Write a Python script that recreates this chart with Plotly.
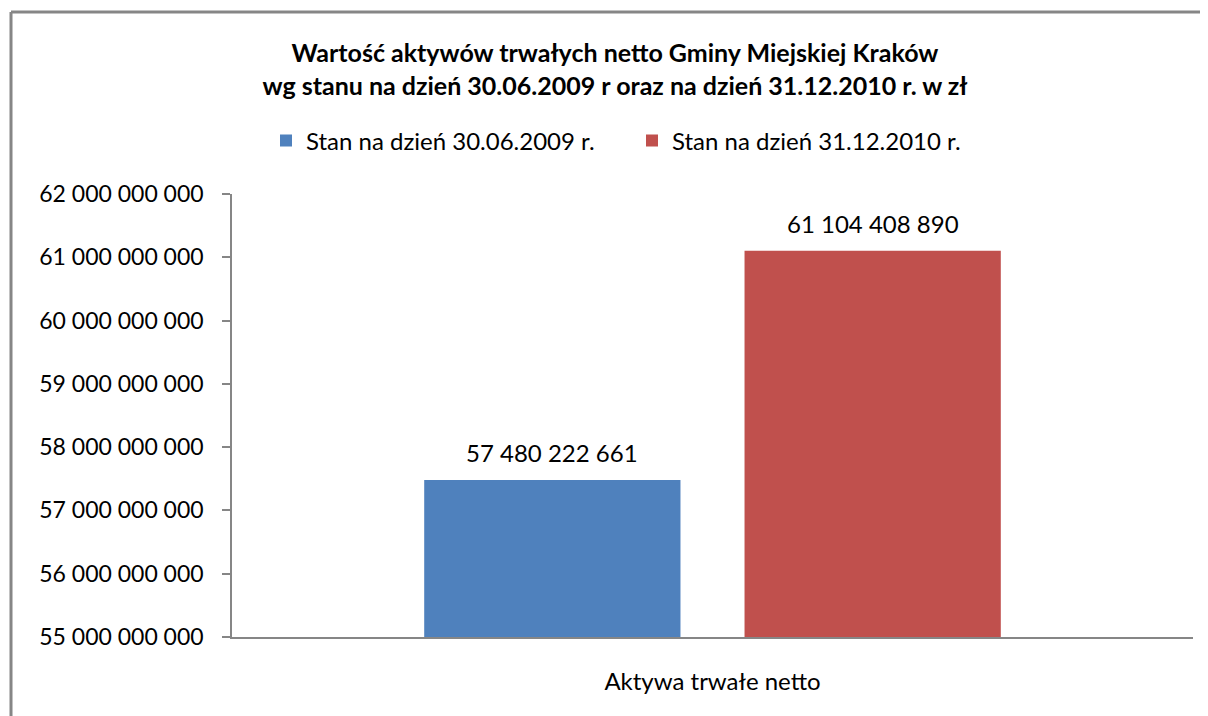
import plotly.graph_objects as go

categories = ["Aktywa trwałe netto"]
series_names = ["Stan na dzień 30.06.2009 r.", "Stan na dzień 31.12.2010 r."]
series_values = [[57480222661], [61104408890]]
series_colors = ["#4F81BD", "#C0504D"]
y_ticks = [55e9, 56e9, 57e9, 58e9, 59e9, 60e9, 61e9, 62e9]
title_lines = ["Wartość aktywów trwałych netto Gminy Miejskiej Kraków",
               "wg stanu na dzień 30.06.2009 r oraz na dzień 31.12.2010 r. w zł"]


def fmt(v):
    return f"{int(v):,}".replace(",", " ")


FONT = "Lato, 'Open Sans', sans-serif"
# page body has an 8px margin; figure origin sits at (8, 8) of the window
OX, OY = 8, 8
W, H = 1192, 708
ML = 232 - OX
MT = 194 - OY
MR = W - (1193 - OX)
MB = H - (637 - OY)
BARGAP = 1 / 3
GROUPGAP = 0.2

fig = go.Figure()
for name, vals, col in zip(series_names, series_values, series_colors):
    fig.add_trace(go.Bar(
        x=categories, y=vals, name=name,
        marker=dict(color=col, line=dict(width=0)),
        hoverinfo="y",
    ))

# data labels above bars
n = len(series_names)
slot = (1 - BARGAP) / n
for i, vals in enumerate(series_values):
    for j, v in enumerate(vals):
        xpos = j - (1 - BARGAP) / 2 + slot * (i + 0.5)
        fig.add_annotation(x=xpos, y=v, xref="x", yref="y", text=fmt(v),
                           showarrow=False, yanchor="bottom", yshift=11,
                           font=dict(family=FONT, size=24, color="#000"))

pw = W - ML - MR
ph = H - MT - MB
bx = (11 - OX - ML) / pw
by = (H - MB - (12 - OY)) / ph
# chart border (left and top edges visible)
fig.add_shape(type="line", xref="paper", yref="paper",
              x0=bx, x1=bx, y0=by, y1=-(MB + 20) / ph,
              line=dict(color="#868686", width=3))
fig.add_shape(type="line", xref="paper", yref="paper",
              x0=bx, x1=(W - ML) / pw, y0=by, y1=by,
              line=dict(color="#868686", width=3))

fig.update_layout(
    width=W, height=H,
    margin=dict(l=ML, r=MR, t=MT, b=MB),
    paper_bgcolor="white", plot_bgcolor="white",
    barmode="group", bargap=BARGAP, bargroupgap=GROUPGAP,
    title=dict(text="<b>" + title_lines[0] + "<br>" + title_lines[1] + "</b>",
               x=(615 - OX) / W, xanchor="center", y=1 - (62 - OY) / H, yanchor="middle",
               font=dict(family=FONT, size=25, color="#000")),
    showlegend=True,
    legend=dict(orientation="h", x=(632 - OX - ML) / pw, xanchor="center",
                y=1 + (MT - (141 - OY)) / ph, yanchor="middle",
                font=dict(family=FONT, size=24, color="#000"),
                entrywidth=321, entrywidthmode="pixels",
                itemsizing="constant", traceorder="normal"),
    xaxis=dict(showline=True, linecolor="#868686", linewidth=1.5, ticks="",
               tickfont=dict(family=FONT, size=24, color="#000"),
               ticklabelstandoff=22, showgrid=False, zeroline=False),
    yaxis=dict(range=[y_ticks[0], y_ticks[-1]], tickvals=y_ticks,
               ticktext=[fmt(t) for t in y_ticks],
               showline=True, linecolor="#868686", linewidth=1.5,
               ticks="outside", ticklen=8, tickcolor="#868686", tickwidth=1.5,
               ticklabelstandoff=14, showgrid=False, zeroline=False,
               tickfont=dict(family=FONT, size=23, color="#000")),
)

fig.write_html("out.html", config={"displayModeBar": False})
